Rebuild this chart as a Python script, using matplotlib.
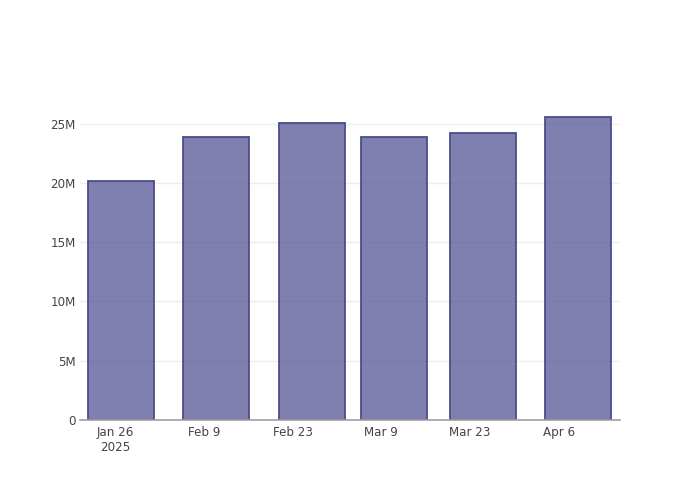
import datetime as dt
import matplotlib
matplotlib.use("Agg")
import matplotlib.pyplot as plt
import matplotlib.dates as mdates
from matplotlib.ticker import FuncFormatter

# values
dates = ["2025-01-27", "2025-02-11", "2025-02-26", "2025-03-11", "2025-03-25", "2025-04-09"]
values = [20.2e6, 23.9e6, 25.1e6, 23.9e6, 24.2e6, 25.6e6]
tick_dates = ["2025-01-26", "2025-02-09", "2025-02-23", "2025-03-09", "2025-03-23", "2025-04-06"]
tick_labels = ["Jan 26\n2025", "Feb 9", "Feb 23", "Mar 9", "Mar 23", "Apr 6"]
y_ticks = [0, 5e6, 10e6, 15e6, 20e6, 25e6]

plt.rcParams["font.family"] = ["DejaVu Sans"]

x = mdates.date2num([dt.date.fromisoformat(d) for d in dates])
xt = mdates.date2num([dt.date.fromisoformat(d) for d in tick_dates])

fig = plt.figure(figsize=(7, 5), dpi=100)
ax = fig.add_axes([80 / 700, 80 / 500, 540 / 700, 320 / 500])

ax.bar(x, values, width=10.4, color=(85 / 255, 85 / 255, 150 / 255, 0.75),
       edgecolor="#4c4c8c", linewidth=1.3, zorder=2)

ax.set_xlim(xt[0] - 5.5, xt[-1] + 9.6)
ax.set_ylim(0, 27.0e6)

ax.set_xticks(xt)
ax.set_xticklabels(tick_labels)
ax.set_yticks(y_ticks)
ax.yaxis.set_major_formatter(FuncFormatter(lambda v, p: "0" if v == 0 else "%dM" % (v / 1e6)))

ax.grid(axis="y", color="#eeeeee", linewidth=1, zorder=0)
ax.set_axisbelow(True)
for s in ["top", "right", "left"]:
    ax.spines[s].set_visible(False)
ax.spines["bottom"].set_color("#a0a0a0")
ax.spines["bottom"].set_linewidth(1.2)
ax.spines["bottom"].set_zorder(3)

ax.tick_params(axis="both", length=0, labelsize=8.6, labelcolor="#444444")
ax.tick_params(axis="x", pad=4)
ax.tick_params(axis="y", pad=3)

fig.savefig("out.png", dpi=100)
